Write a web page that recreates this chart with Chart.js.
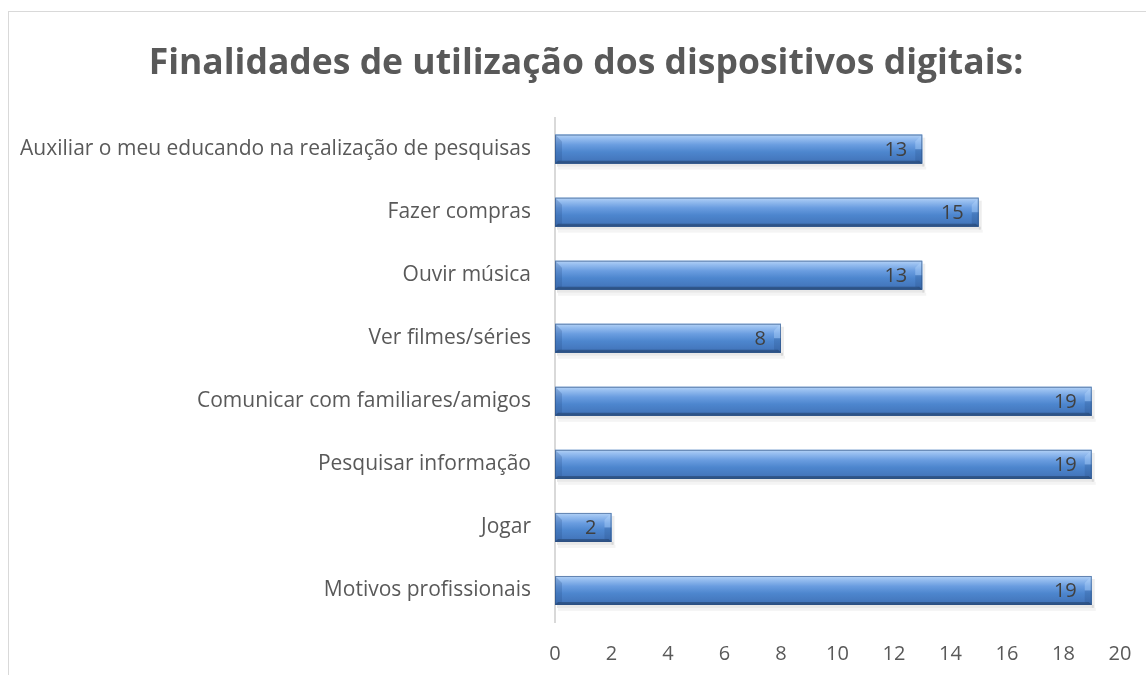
<!DOCTYPE html>
<html>
<head>
<meta charset="utf-8">
<script src="https://cdn.jsdelivr.net/npm/chart.js@4.4.1/dist/chart.umd.min.js"></script>
<style>
  html,body{margin:0;padding:0;background:#fff;overflow:hidden;}
  #wrap{position:relative;width:1146px;height:675px;}
  #frame{position:absolute;left:8px;top:11px;width:1300px;height:800px;border:1px solid #d9d9d9;box-sizing:border-box;}
  canvas{position:absolute;left:0;top:0;}
</style>
</head>
<body>
<div id="wrap">
  <div id="frame"></div>
  <canvas id="c" width="1146" height="675"></canvas>
</div>
<script>
const titleText = "Finalidades de utilização dos dispositivos digitais:";
const categories = [
  "Auxiliar o meu educando na realização de pesquisas",
  "Fazer compras",
  "Ouvir música",
  "Ver filmes/séries",
  "Comunicar com familiares/amigos",
  "Pesquisar informação",
  "Jogar",
  "Motivos profissionais"
];
const values = [13, 15, 13, 8, 19, 19, 2, 19];
const xTicks = [0, 2, 4, 6, 8, 10, 12, 14, 16, 18, 20];

const FONT = "'Open Sans', sans-serif";

const titleShift = {
  id: 'titleShift',
  afterLayout(chart) {
    if (chart.titleBlock) { chart.titleBlock.left = 52; chart.titleBlock.right = 1120; }
  }
};

const bevelPlugin = {
  id: 'bevel',
  beforeDatasetsDraw(chart) {
    const ctx = chart.ctx;
    const meta = chart.getDatasetMeta(0);
    ctx.save();
    meta.data.forEach(el => {
      const h = el.height;
      const top = el.y - h / 2;
      const left = el.base, right = el.x;
      ctx.fillStyle = 'rgba(0,0,0,0.09)';
      ctx.fillRect(left + 2, top + h, right - left, 3);
      ctx.fillStyle = 'rgba(0,0,0,0.045)';
      ctx.fillRect(left + 3, top + h + 3, right - left + 1, 3);
      ctx.fillStyle = 'rgba(0,0,0,0.07)';
      ctx.fillRect(right, top + 3, 3, h);
    });
    ctx.restore();
  },
  afterDatasetsDraw(chart) {
    const ctx = chart.ctx;
    const meta = chart.getDatasetMeta(0);
    ctx.save();
    meta.data.forEach((el, i) => {
      const h = el.height;
      const top = el.y - h / 2, bot = el.y + h / 2;
      const left = el.base, right = el.x;
      const b = 7;
      const g = ctx.createLinearGradient(0, top, 0, bot);
      g.addColorStop(0, '#b5d3f6');
      g.addColorStop(0.12, '#98bff0');
      g.addColorStop(0.35, '#6a9de0');
      g.addColorStop(0.6, '#4d86ce');
      g.addColorStop(0.88, '#4477bd');
      g.addColorStop(1, '#38639a');
      ctx.fillStyle = g;
      ctx.fillRect(left, top, right - left, h);
      ctx.fillStyle = 'rgba(40,80,140,0.25)';
      ctx.beginPath();
      ctx.moveTo(left, top); ctx.lineTo(left + b, top + b);
      ctx.lineTo(left + b, bot - 3); ctx.lineTo(left, bot);
      ctx.closePath(); ctx.fill();
      ctx.fillStyle = 'rgba(190,220,255,0.35)';
      ctx.beginPath();
      ctx.moveTo(right, top); ctx.lineTo(right - b, top + b);
      ctx.lineTo(right - b, el.y); ctx.lineTo(right, el.y);
      ctx.closePath(); ctx.fill();
      ctx.fillStyle = 'rgba(30,60,110,0.18)';
      ctx.beginPath();
      ctx.moveTo(right, el.y); ctx.lineTo(right - b, el.y);
      ctx.lineTo(right - b, bot - 3); ctx.lineTo(right, bot);
      ctx.closePath(); ctx.fill();
      ctx.fillStyle = 'rgba(35,65,110,0.55)';
      ctx.beginPath();
      ctx.moveTo(left, bot); ctx.lineTo(right, bot);
      ctx.lineTo(right - 3, bot - 3); ctx.lineTo(left + 3, bot - 3);
      ctx.closePath(); ctx.fill();
      ctx.strokeStyle = 'rgba(45,80,130,0.6)';
      ctx.lineWidth = 1;
      ctx.strokeRect(left + 0.5, top + 0.5, right - left - 1, h - 1);
      ctx.fillStyle = '#404040';
      ctx.font = "20px " + FONT;
      ctx.textAlign = 'right';
      ctx.textBaseline = 'middle';
      ctx.fillText(String(values[i]), right - 15, el.y + 1);
    });
    ctx.restore();
  }
};

new Chart(document.getElementById('c'), {
  type: 'bar',
  data: {
    labels: categories,
    datasets: [{
      data: values,
      backgroundColor: '#5188cb',
      borderWidth: 0,
      categoryPercentage: 0.92,
      barPercentage: 0.5
    }]
  },
  options: {
    indexAxis: 'y',
    responsive: false,
    animation: false,
    events: [],
    layout: { padding: { left: 0, right: 26, top: 0, bottom: 0 } },
    plugins: {
      legend: { display: false },
      tooltip: { enabled: false },
      title: {
        display: true,
        text: titleText,
        color: '#595959',
        font: { family: FONT, size: 35.5, weight: 'bold' },
        padding: { top: 43, bottom: 32 }
      }
    },
    scales: {
      x: {
        min: 0, max: 20,
        afterBuildTicks(s) { s.ticks = xTicks.map(v => ({ value: v })); },
        grid: { display: false, drawTicks: false },
        border: { display: false },
        ticks: { color: '#595959', font: { family: FONT, size: 20 }, padding: 20 },
        afterFit(s) { s.height = 53; s.paddingRight = 0; s.paddingLeft = 0; }
      },
      y: {
        grid: { display: false, drawTicks: false },
        border: { display: true, color: '#d9d9d9', width: 2 },
        ticks: { color: '#595959', font: { family: FONT, size: 21 }, padding: 24 },
        afterFit(s) { s.width = 555; }
      }
    }
  },
  plugins: [titleShift, bevelPlugin]
});
</script>
</body>
</html>
